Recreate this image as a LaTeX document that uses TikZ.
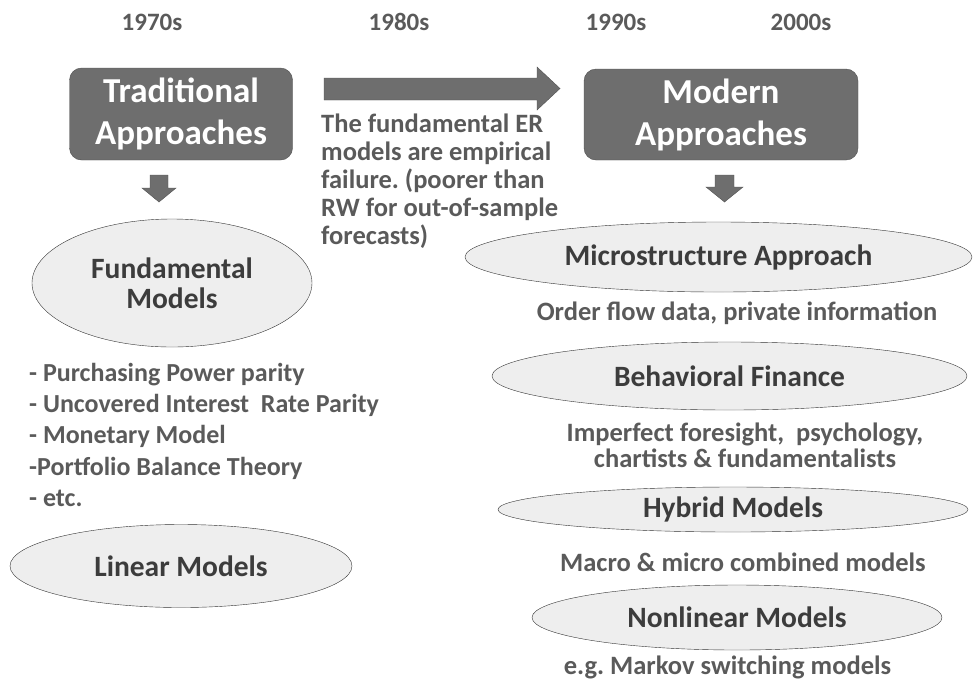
\documentclass[tikz,border=0pt]{standalone}
\usepackage{fontspec}
\setmainfont{Carlito}
\usetikzlibrary{shapes.geometric}

\definecolor{boxgray}{HTML}{6E6E6E}
\definecolor{edgegray}{HTML}{505050}
\definecolor{ovalfill}{HTML}{EEEEEE}
\definecolor{txtgray}{HTML}{5A5A5A}
\definecolor{darktxt}{HTML}{3C3C3C}

\tikzset{
  era/.style={font=\fontsize{25}{28}\selectfont\bfseries, text=txtgray},
  phase/.style={draw=edgegray, fill=boxgray, rounded corners=12pt, text=white,
    align=center, font=\fontsize{35}{42}\selectfont\bfseries},
  model/.style={ellipse, draw=black!80, fill=ovalfill, inner sep=0pt, align=center,
    text=darktxt, font=\fontsize{29.5}{30}\selectfont\bfseries},
  note/.style={text=txtgray, inner sep=0pt, align=center,
    font=\fontsize{26.5}{26}\selectfont\bfseries},
  blockarrow/.style={draw=edgegray, fill=boxgray},
}

\begin{document}
\begin{tikzpicture}[x=1pt, y=-1pt]
  \useasboundingbox (0,0) rectangle (973,681);

  % decades
  \node[era] (y70) at (152,22) {1970s};
  \node[era] (y80) at (399,22) {1980s};
  \node[era] (y90) at (616,22) {1990s};
  \node[era] (y00) at (801,22) {2000s};

  % the two approaches
  \node[phase, minimum width=223, minimum height=92] (trad) at (181,114) {Traditional\\Approaches};
  \node[phase, minimum width=274, minimum height=91] (modern) at (721,114.5) {Modern\\Approaches};

  % block arrows
  \draw[blockarrow] (324,78) -- (537,78) -- (537,67) -- (560,88.5) -- (537,110) -- (537,100) -- (324,100) -- cycle;
  \draw[blockarrow] (150,175) -- (168,175) -- (168,188) -- (176,188) -- (159,202) -- (142,188) -- (150,188) -- cycle;
  \draw[blockarrow] (715,175) -- (734,175) -- (734,187) -- (743,187) -- (724.5,202) -- (706,187) -- (715,187) -- cycle;

  \node[note, align=left, anchor=north west, font=\fontsize{26.5}{28}\selectfont\bfseries] (failure) at (321,114)
    {The fundamental ER\\models are empirical\\failure.~(poorer than\\RW for out-of-sample\\forecasts)};

  % traditional side
  \node[model, minimum width=280, minimum height=128] (fund) at (172,283) {Fundamental\\Models};
  \node[note, align=left, anchor=north west, font=\fontsize{26}{31.2}\selectfont\bfseries] (theories) at (29,363)
    {- Purchasing Power parity\\- Uncovered Interest~ Rate Parity\\- Monetary Model\\-Portfolio Balance Theory\\- etc.};
  \node[model, minimum width=342, minimum height=83] (linear) at (181,566) {Linear Models};

  % modern side
  \node[model, minimum width=507, minimum height=70] (micro) at (718.5,257) {Microstructure Approach};
  \node[note] (flow) at (737,313) {Order flow data, private information};
  \node[model, minimum width=475, minimum height=68] (behav) at (729.5,376) {Behavioral Finance};
  \node[note] (psych) at (745,445) {Imperfect foresight,~ psychology,\\chartists \& fundamentalists};
  \node[model, minimum width=470, minimum height=45] (hybrid) at (733,509.5) {Hybrid Models};
  \node[note] (combo) at (743,562) {Macro \& micro combined models};
  \node[model, minimum width=410, minimum height=65] (nonlin) at (737,617.5) {Nonlinear Models};
  \node[note] (markov) at (727.5,667) {e.g.\ Markov switching models};
\end{tikzpicture}
\end{document}
